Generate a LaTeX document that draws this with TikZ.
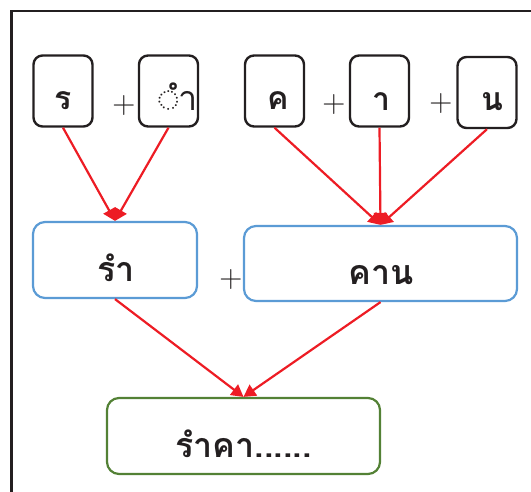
\documentclass[tikz,border=0pt]{standalone}
\usepackage{fontspec}
\newfontfamily\thaifont[Script=Thai]{Loma}
\usetikzlibrary{arrows.meta}
\definecolor{redarrow}{HTML}{ED1C24}
\definecolor{boxblue}{HTML}{5B9BD5}
\definecolor{boxgreen}{HTML}{538135}
\definecolor{inkblack}{HTML}{231F20}
\tikzset{
  letterbox/.style={draw=inkblack, line width=2.4pt, rounded corners=9pt, minimum width=59pt, minimum height=71pt, inner sep=0pt},
  wordbox/.style={draw=boxblue, line width=2.2pt, rounded corners=12pt, minimum height=75pt, inner sep=0pt},
  resultbox/.style={draw=boxgreen, line width=2.2pt, rounded corners=12pt, minimum height=76pt, inner sep=0pt},
  smalltxt/.style={anchor=base, inner sep=0pt, font=\thaifont\bfseries\fontsize{32}{32}\selectfont, text=inkblack},
  bigtxt/.style={anchor=base, inner sep=0pt, font=\thaifont\bfseries\fontsize{34}{34}\selectfont, text=inkblack},
  plussign/.style={inner sep=0pt, font=\fontsize{32}{32}\selectfont, text=inkblack},
  link/.style={draw=redarrow, line width=2.2pt, -{Triangle[length=12pt,width=13pt]}},
}
\begin{document}
\begin{tikzpicture}[x=1pt,y=-1pt]
\useasboundingbox (0,0) rectangle (531,492);
\draw[inkblack, line width=2.4pt] (11.5,540) -- (11.5,11) -- (560,11);
% letter boxes
\node[letterbox] (r) at (63,91) {};
\node[letterbox] (am) at (168.5,91) {};
\node[letterbox] (kh) at (274.5,91) {};
\node[letterbox] (aa) at (379.5,91) {};
\node[letterbox] (n) at (487,92.5) {};
\node[smalltxt] (tr) at (63.5,110) {ร};
\node[anchor=base, inner sep=0pt, font=\thaifont\fontsize{34}{34}\selectfont, text=inkblack] (tam) at (178,111) {◌ำ};
\node[smalltxt] (tkh) at (278.5,110) {ค};
\node[smalltxt] (taa) at (381,111) {า};
\node[smalltxt] (tn) at (492,111) {น};
\node[plussign] (p1) at (124,106) {+};
\node[plussign] (p2) at (334,105) {+};
\node[plussign] (p3) at (441,104) {+};
% word boxes
\node[wordbox, minimum width=164pt, minimum height=76pt] (ram) at (115,260) {};
\node[wordbox, minimum width=273pt] (khan) at (380.5,263.5) {};
\node[bigtxt] (tram) at (116,282) {รำ};
\node[bigtxt] (tkhan) at (381,285) {คาน};
\node[plussign] (p4) at (231,280) {+};
% result
\node[resultbox, minimum width=273pt] (res) at (243.5,436) {};
\node[bigtxt] (tres) at (243.5,457) {รำคา......};
% arrows
\draw[link] (r.south) -- (ram.north);
\draw[link] (am.south) -- (ram.north);
\draw[link] (kh.south) -- (khan.north);
\draw[link] (aa.south) -- (khan.north);
\draw[link] (n.south) -- (khan.north);
\draw[link] (ram.south) -- (res.north);
\draw[link] (khan.south) -- (res.north);
\end{tikzpicture}
\end{document}
